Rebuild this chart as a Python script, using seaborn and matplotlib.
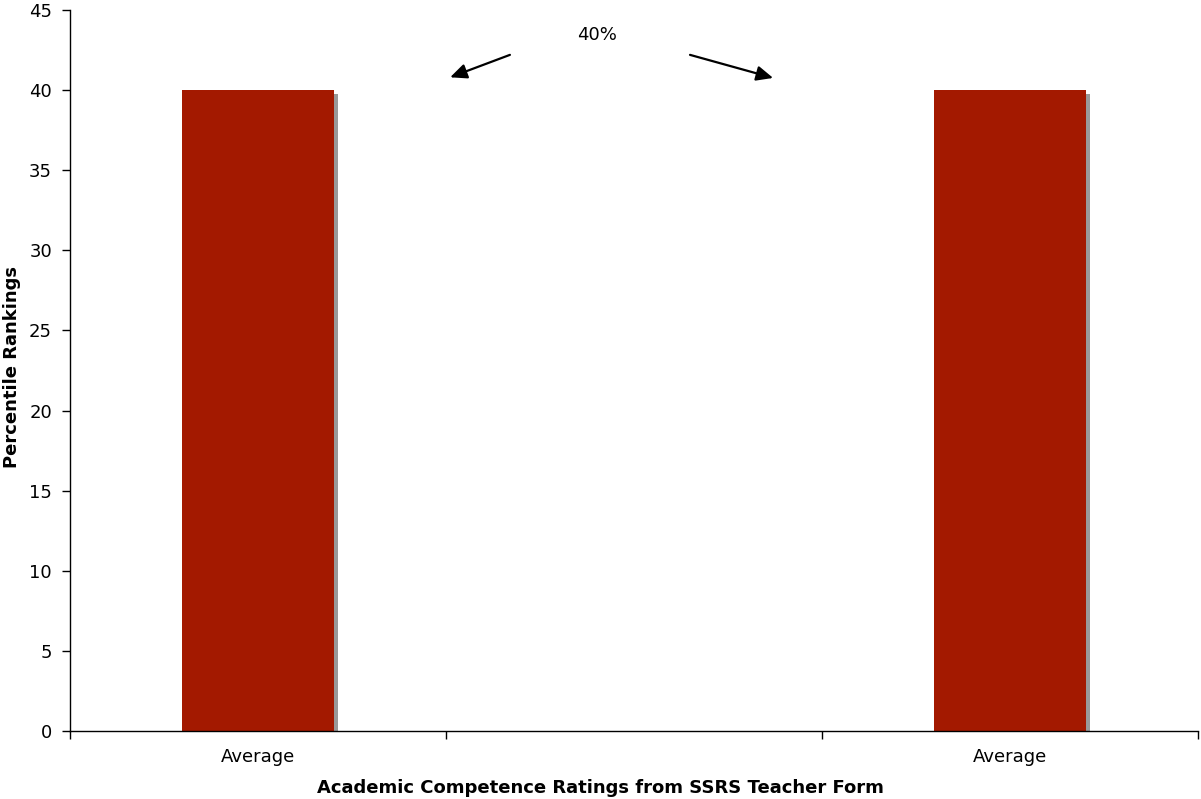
import matplotlib
matplotlib.use("Agg")
import matplotlib.pyplot as plt
import matplotlib.patheffects as pe
import seaborn as sns
import pandas as pd

categories = ["group_a", "group_b", "group_c"]
tick_labels = ["Average", "", "Average"]
bar_categories = ["group_a", "group_c"]
bar_values = [40, 40]
y_ticks = [0, 5, 10, 15, 20, 25, 30, 35, 40, 45]

sns.set_style("white")
plt.rcParams['font.family'] = ['DejaVu Sans']
plt.rcParams['text.color'] = 'black'
plt.rcParams['axes.labelcolor'] = 'black'
plt.rcParams['xtick.color'] = 'black'
plt.rcParams['ytick.color'] = 'black'

data = pd.DataFrame({'category': bar_categories, 'percentile': bar_values})

fig = plt.figure(figsize=(12.01, 7.99), dpi=100)
ax = fig.add_axes([70 / 1201, 68 / 799, 1128 / 1201, 721 / 799])

sns.barplot(data=data, x='category', y='percentile', order=categories,
            color='#A31900', saturation=1, width=0.404, linewidth=0, ax=ax)

for bar in ax.patches:
    bar.set_path_effects([
        pe.SimplePatchShadow(offset=(2.9, -2.9), shadow_rgbFace='#999999', alpha=1.0),
        pe.Normal(),
    ])

ax.set_xlim(-0.5, 2.5)
ax.set_ylim(0, 45)
ax.set_yticks(y_ticks)
ax.set_xticks([-0.5, 0.5, 1.5, 2.5])
ax.set_xticklabels([])
ax.set_xticks([0, 1, 2], minor=True)
ax.set_xticklabels(tick_labels, minor=True)
ax.tick_params(axis='x', which='major', bottom=True, direction='out', length=6, width=1, color='black')
ax.tick_params(axis='x', which='minor', bottom=True, length=0, pad=12, labelsize=13)
ax.tick_params(axis='y', left=True, direction='out', length=6, width=1, color='black',
               labelsize=13, pad=7)

for side in ['top', 'right']:
    ax.spines[side].set_visible(False)
for side in ['left', 'bottom']:
    ax.spines[side].set_color('black')
    ax.spines[side].set_linewidth(1)

ax.set_xlabel('Academic Competence Ratings from SSRS Teacher Form',
              fontsize=13, fontweight='bold')
ax.xaxis.set_label_coords((600 - 70) / 1128, -0.066)
ax.set_ylabel('Percentile Rankings', fontsize=13, fontweight='bold')
ax.yaxis.set_label_coords(-0.043, 0.505)

arrow = dict(arrowstyle='-|>,head_length=1.0,head_width=0.45', color='black', lw=1.6,
             shrinkA=0, shrinkB=0)
ax.annotate('', xy=(0.511, 40.8), xytext=(0.670, 42.2), arrowprops=arrow)
ax.annotate('', xy=(1.370, 40.76), xytext=(1.149, 42.2), arrowprops=arrow)
ax.text(0.902, 43.45, '40%', ha='center', va='center', fontsize=13)

plt.savefig('out.png', dpi=100)
plt.close()
